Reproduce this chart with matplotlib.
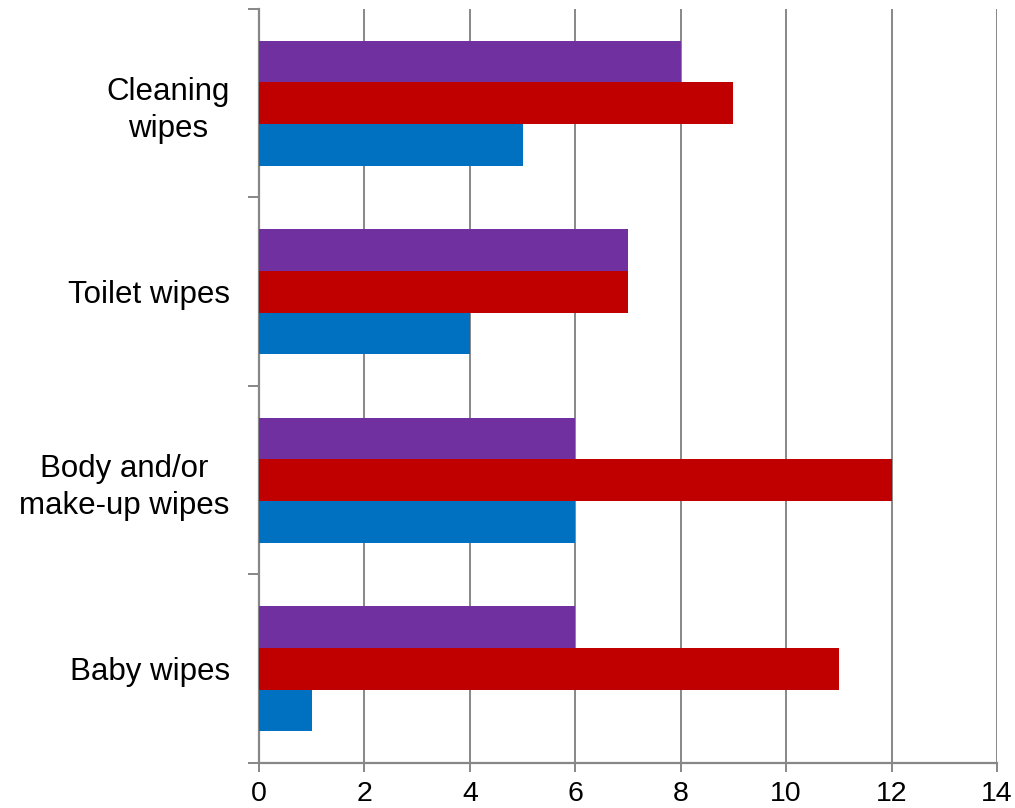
import matplotlib
matplotlib.use("Agg")
import matplotlib.pyplot as plt
import numpy as np

plt.rcParams['font.family'] = ['Liberation Sans', 'DejaVu Sans']

categories = ["Baby wipes", "Body and/or\nmake-up wipes", "Toilet wipes", "Cleaning\nwipes"]
series_blue = [1, 6, 4, 5]
series_red = [11, 12, 7, 9]
series_purple = [6, 6, 7, 8]
xticks = [0, 2, 4, 6, 8, 10, 12, 14]

fig = plt.figure(figsize=(10.15, 8.08), dpi=100)
ax = fig.add_axes([0.2552, 0.0557, 0.9823 - 0.2552, 0.9889 - 0.0557])

y = np.arange(len(categories))
h = 0.221
ax.barh(y - h, series_blue, height=h, color="#0070C0", zorder=3)
ax.barh(y, series_red, height=h, color="#C00000", zorder=3)
ax.barh(y + h, series_purple, height=h, color="#7030A0", zorder=3)

ax.set_xlim(0, 14)
ax.set_ylim(-0.5, len(categories) - 0.5)
ax.set_xticks(xticks)
ax.set_xticklabels([str(t) for t in xticks])
ax.set_yticks(y)
ax.set_yticklabels(categories, multialignment='center', linespacing=1.32)
ax.set_yticks(np.arange(len(categories) + 1) - 0.5, minor=True)

gc = "#878787"
ax.grid(axis='x', color=gc, linewidth=1.4, zorder=0)
for s in ['top', 'right']:
    ax.spines[s].set_visible(False)
for s in ['left', 'bottom']:
    ax.spines[s].set_color(gc)
    ax.spines[s].set_linewidth(1.6)

ax.tick_params(axis='y', which='major', length=0, pad=21, labelsize=22.5)
ax.tick_params(axis='y', which='minor', length=8, width=1.4, color=gc)
ax.tick_params(axis='x', which='major', length=6.5, width=1.4, color=gc, pad=6.5, labelsize=20.5)

fig.savefig("out.png", dpi=100)
